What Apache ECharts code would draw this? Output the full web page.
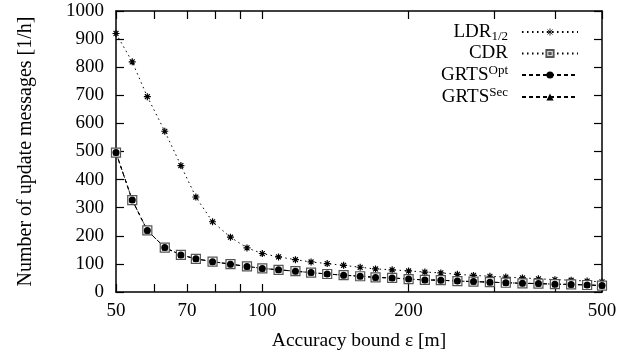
<!DOCTYPE html>
<html>
<head>
<meta charset="utf-8">
<script src="https://cdn.jsdelivr.net/npm/echarts@6/dist/echarts.min.js"></script>
<style>
    html, body { margin: 0; padding: 0; background: #fff; }
    #chart { width: 632px; height: 358px; }
</style>
</head>
<body>
<div id="chart"></div>
<script>
// accuracy bound in m (log spaced)
const bounds = [50, 54, 58, 63, 68, 73, 79, 86, 93, 100, 108, 117, 126, 136, 147, 159,
    171, 185, 200, 216, 233, 252, 272, 294, 317, 343, 370, 400, 432, 466, 500];
const ldr = [920, 819, 695, 572, 450, 338, 250, 195, 157, 137, 125, 115, 107, 101, 95, 88,
    82, 79, 75, 71, 68, 63, 59, 56, 53, 50, 47, 44, 42, 39, 36];
const cdr = [496, 327, 219, 158, 132, 118, 108, 99, 91, 84, 79, 74, 69, 64, 60, 56,
    52, 50, 46, 43, 42, 39, 37, 35, 33, 31, 30, 28, 27, 25, 23];
const grtsOpt = [496, 327, 219, 158, 132, 118, 108, 99, 91, 84, 79, 74, 69, 64, 60, 56,
    52, 50, 46, 43, 42, 39, 37, 35, 33, 31, 30, 28, 27, 25, 23];
const grtsSec = [496, 327, 219, 158, 132, 118, 108, 99, 91, 84, 79, 74, 69, 64, 60, 56,
    52, 50, 46, 43, 42, 39, 37, 35, 33, 31, 30, 28, 27, 25, 23];
const xTicks = [50, 60, 70, 80, 90, 100, 200, 300, 400, 500];
const xLabels = [50, 70, 100, 200, 500];

const font = "Liberation Serif";
const asterisk = "path://M0,5L10,5M5,0L5,10M1.5,1.5L8.5,8.5M8.5,1.5L1.5,8.5";
const squareDot = "path://M0,0L10,0L10,10L0,10ZM4,4L6,4L6,6L4,6Z";

function pairs(ys) {
    return bounds.map((x, i) => [x, ys[i]]);
}

let chart = echarts.init(document.getElementById("chart"), null, { renderer: "canvas" });

const xCommon = {
    type: "log",
    logBase: 10,
    min: 50,
    max: 500,
    axisLine: { onZero: false, lineStyle: { color: "#000", width: 1.5 } },
    axisTick: { inside: true, length: 8, customValues: xTicks, lineStyle: { color: "#000", width: 1.2 } },
    minorTick: { show: false },
    splitLine: { show: false },
};
const yCommon = {
    type: "value",
    min: 0,
    max: 1000,
    interval: 100,
    axisLine: { show: true, lineStyle: { color: "#000", width: 1.5 } },
    axisTick: { show: true, inside: true, length: 8, lineStyle: { color: "#000", width: 1.2 } },
    splitLine: { show: false },
};

chart.setOption({
    animation: false,
    backgroundColor: "#fff",
    textStyle: { fontFamily: font, color: "#000" },
    grid: { left: 116, right: 30, top: 11, bottom: 66 },
    legend: {
        orient: "vertical",
        align: "right",
        right: 48,
        top: 15,
        itemWidth: 56,
        itemHeight: 9,
        itemGap: 1,
        data: [
            { name: "LDR", itemStyle: { color: "none", borderColor: "#000", borderWidth: 0.8 } },
            { name: "CDR" },
            { name: "GRTS Opt" },
            { name: "GRTS Sec" },
        ],
        formatter: function (name) {
            if (name === "LDR") return "{b|LDR}{sub|1/2}";
            if (name === "CDR") return "{b|CDR}";
            if (name === "GRTS Opt") return "{b|GRTS}{sup|Opt}";
            return "{b|GRTS}{sup|Sec}";
        },
        textStyle: {
            fontFamily: font,
            color: "#000",
            padding: [0, 9, 0, 0],
            rich: {
                b: { fontFamily: font, fontSize: 19, color: "#000", lineHeight: 22 },
                sub: { fontFamily: font, fontSize: 13, color: "#000", lineHeight: 22, verticalAlign: "bottom", padding: [10, 0, 0, 0] },
                sup: { fontFamily: font, fontSize: 13, color: "#000", lineHeight: 22, verticalAlign: "top", padding: [0, 0, 8, 0] },
            },
        },
    },
    xAxis: [
        Object.assign({}, xCommon, {
            position: "bottom",
            name: "Accuracy bound ε [m]",
            nameLocation: "middle",
            nameGap: 39,
            nameTextStyle: { fontFamily: font, fontSize: 19.5, color: "#000" },
            axisLabel: {
                customValues: xLabels,
                margin: 10,
                fontFamily: font,
                fontSize: 19,
                color: "#000",
                formatter: (v) => String(Math.round(v)),
            },
        }),
        Object.assign({}, xCommon, {
            position: "top",
            axisLabel: { show: false },
        }),
    ],
    yAxis: [
        Object.assign({}, yCommon, {
            position: "left",
            name: "Number of update messages [1/h]",
            nameLocation: "middle",
            nameGap: 80,
            nameTextStyle: { fontFamily: font, fontSize: 20, color: "#000" },
            axisLabel: {
                margin: 12,
                fontFamily: font,
                fontSize: 19,
                color: "#000",
                formatter: (v) => String(v),
            },
        }),
        Object.assign({}, yCommon, {
            position: "right",
            axisLabel: { show: false },
        }),
    ],
    series: [
        {
            name: "LDR",
            type: "line",
            data: pairs(ldr),
            symbol: asterisk,
            symbolSize: 7,
            showAllSymbol: true,
            lineStyle: { color: "#000", width: 1, type: [1.5, 3.5] },
            itemStyle: { color: "none", borderColor: "#000", borderWidth: 1.2 },
        },
        {
            name: "CDR",
            type: "line",
            data: pairs(cdr),
            symbol: squareDot,
            symbolSize: 9,
            showAllSymbol: true,
            lineStyle: { color: "#000", width: 1, type: [1.5, 3.5] },
            itemStyle: { color: "#fff", borderColor: "#555", borderWidth: 1.2 },
        },
        {
            name: "GRTS Opt",
            type: "line",
            data: pairs(grtsOpt),
            symbol: "circle",
            symbolSize: 7,
            showAllSymbol: true,
            lineStyle: { color: "#000", width: 1, type: [4, 3] },
            itemStyle: { color: "#000" },
        },
        {
            name: "GRTS Sec",
            type: "line",
            data: pairs(grtsSec),
            symbol: "triangle",
            symbolSize: 6,
            showAllSymbol: true,
            lineStyle: { color: "#000", width: 1, type: [4, 3] },
            itemStyle: { color: "#000" },
        },
    ],
});
</script>
</body>
</html>
